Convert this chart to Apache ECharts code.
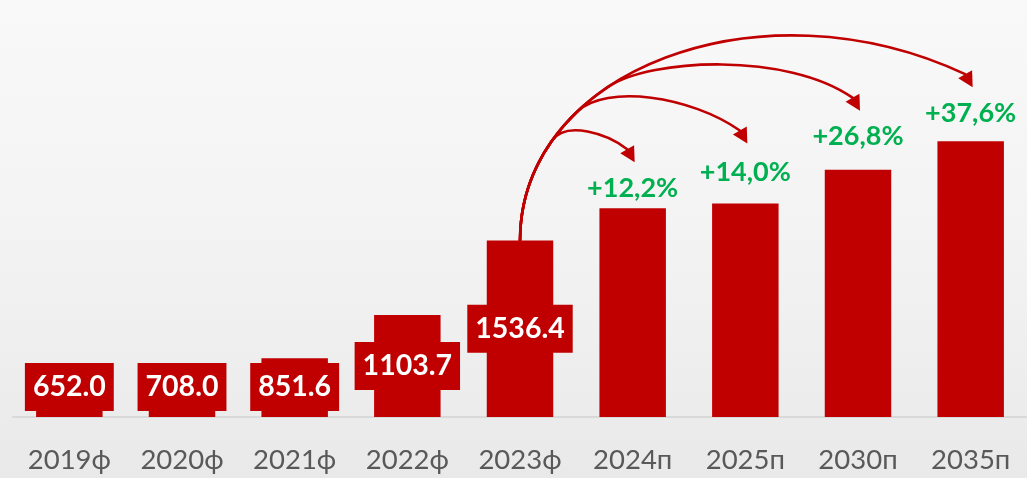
<!DOCTYPE html>
<html><head><meta charset="utf-8">
<script src="https://cdn.jsdelivr.net/npm/echarts@6/dist/echarts.min.js"></script>
<style>
html,body{margin:0;padding:0;}
#c{width:1027px;height:478px;background:linear-gradient(180deg,#f9f9f9 0%,#f2f2f2 55%,#e9e9e9 100%);}
</style>
</head><body><div id="c"></div>
<script>
// ---- data ----
const categories = ['2019ф','2020ф','2021ф','2022ф','2023ф','2024п','2025п','2030п','2035п'];
const values = [652.0, 708.0, 851.6, 1103.7, 1536.4, 1723.8, 1751.5, 1948.2, 2114.1];
const growthLabels = ['+12,2%','+14,0%','+26,8%','+37,6%'];
const actualCount = 5;          // 2019–2023 are actual values
const baseIndex = 4;            // arrows start from 2023

// ---- style ----
const RED = '#C00000', GREEN = '#00B050', GREY = '#595959';
const growthLabelDist = [6, 18, 20, 14];
const arrowTipLift = [46, 60, 59, 54];
const branchT = [0.22, 0.30, 0.38, 1];
const handleA = [25, 40, 50];
const handleB = [25, 60, 80];
const endAngle = [38, 35, 35];

const chart = echarts.init(document.getElementById('c'), null, {renderer: 'canvas'});

const seriesData = values.map((v, i) => {
  if (i < actualCount) {
    return {
      value: v,
      label: {
        show: true,
        position: i < 3 ? 'insideBottom' : 'inside',
        distance: 6,
        formatter: p => p.value.toFixed(1),
        color: '#ffffff', fontFamily: 'Lato', fontWeight: 'bold', fontSize: 28.5,
        lineHeight: 34, backgroundColor: RED, padding: [7, 8]
      }
    };
  }
  const k = i - actualCount;
  return {
    value: v,
    label: {
      show: true, position: 'top', distance: growthLabelDist[k],
      formatter: () => growthLabels[k],
      color: GREEN, fontFamily: 'Lato', fontWeight: 'bold', fontSize: 27, lineHeight: 27
    }
  };
});

chart.setOption({
  backgroundColor: 'transparent',
  animation: false,
  grid: {left: 13, width: 1022, top: 61, bottom: 61},
  xAxis: {
    type: 'category', data: categories,
    axisLine: {lineStyle: {color: '#d9d9d9', width: 2}},
    axisTick: {show: false},
    axisLabel: {color: GREY, fontFamily: 'Lato', fontSize: 27.5, lineHeight: 27, margin: 30}
  },
  yAxis: {
    type: 'value', min: 510, max: 2580, show: false,
    splitLine: {show: false}
  },
  series: [{
    type: 'bar', data: seriesData, barWidth: '59%',
    itemStyle: {color: RED}
  }]
});

// ---- curved arrows (computed from the chart's own scales) ----
function px(i) { return chart.convertToPixel({seriesIndex: 0}, [i, values[i]]); }
function lerp(a, b, t) { return [a[0] + (b[0] - a[0]) * t, a[1] + (b[1] - a[1]) * t]; }
function cubicTan(P, t) {
  const u = 1 - t;
  return [
    3*u*u*(P[1][0]-P[0][0]) + 6*u*t*(P[2][0]-P[1][0]) + 3*t*t*(P[3][0]-P[2][0]),
    3*u*u*(P[1][1]-P[0][1]) + 6*u*t*(P[2][1]-P[1][1]) + 3*t*t*(P[3][1]-P[2][1])
  ];
}
function split(P, t) {
  const p01 = lerp(P[0], P[1], t), p12 = lerp(P[1], P[2], t), p23 = lerp(P[2], P[3], t);
  const p012 = lerp(p01, p12, t), p123 = lerp(p12, p23, t), b = lerp(p012, p123, t);
  return [P[0], p01, p012, b];
}
const HEAD_LEN = 15, HEAD_HALF = 8, HEAD_ANG = 60 * Math.PI / 180;
const hd = [Math.cos(HEAD_ANG), Math.sin(HEAD_ANG)];

const S = px(baseIndex);
const tips = growthLabels.map((_, k) => {
  const p = px(actualCount + k);
  return [p[0] + 2, p[1] - arrowTipLift[k]];
});
const bases = tips.map(t => [t[0] - hd[0] * HEAD_LEN, t[1] - hd[1] * HEAD_LEN]);
const E4 = bases[3];
const stem = [S, [S[0], S[1] - 170], [E4[0] - 205, E4[1] - 96], E4];

const graphics = [];
function curve(P) {
  return {
    type: 'bezierCurve', silent: true, z: 10,
    shape: {x1: P[0][0], y1: P[0][1], cpx1: P[1][0], cpy1: P[1][1], cpx2: P[2][0], cpy2: P[2][1], x2: P[3][0], y2: P[3][1]},
    style: {stroke: RED, lineWidth: 2.6, fill: null, lineCap: 'round'}
  };
}
tips.forEach((tip, k) => {
  const base = bases[k];
  if (k === 3) {
    graphics.push(curve(stem));
  } else {
    const sub = split(stem, branchT[k]);
    graphics.push(curve(sub));
    const B = sub[3];
    const tg = cubicTan(stem, branchT[k]);
    const L = Math.hypot(tg[0], tg[1]);
    const d0 = [tg[0] / L, tg[1] / L];
    const ea = endAngle[k] * Math.PI / 180;
    const c1 = [B[0] + d0[0] * handleA[k], B[1] + d0[1] * handleA[k]];
    const c2 = [base[0] - Math.cos(ea) * handleB[k], base[1] - Math.sin(ea) * handleB[k]];
    graphics.push(curve([B, c1, c2, base]));
  }
  const perp = [-hd[1], hd[0]];
  graphics.push({
    type: 'polygon', silent: true, z: 11,
    shape: {points: [
      tip,
      [base[0] + perp[0] * HEAD_HALF, base[1] + perp[1] * HEAD_HALF],
      [base[0] - perp[0] * HEAD_HALF, base[1] - perp[1] * HEAD_HALF]
    ]},
    style: {fill: RED}
  });
});
chart.setOption({graphic: graphics});
</script>
</body></html>
